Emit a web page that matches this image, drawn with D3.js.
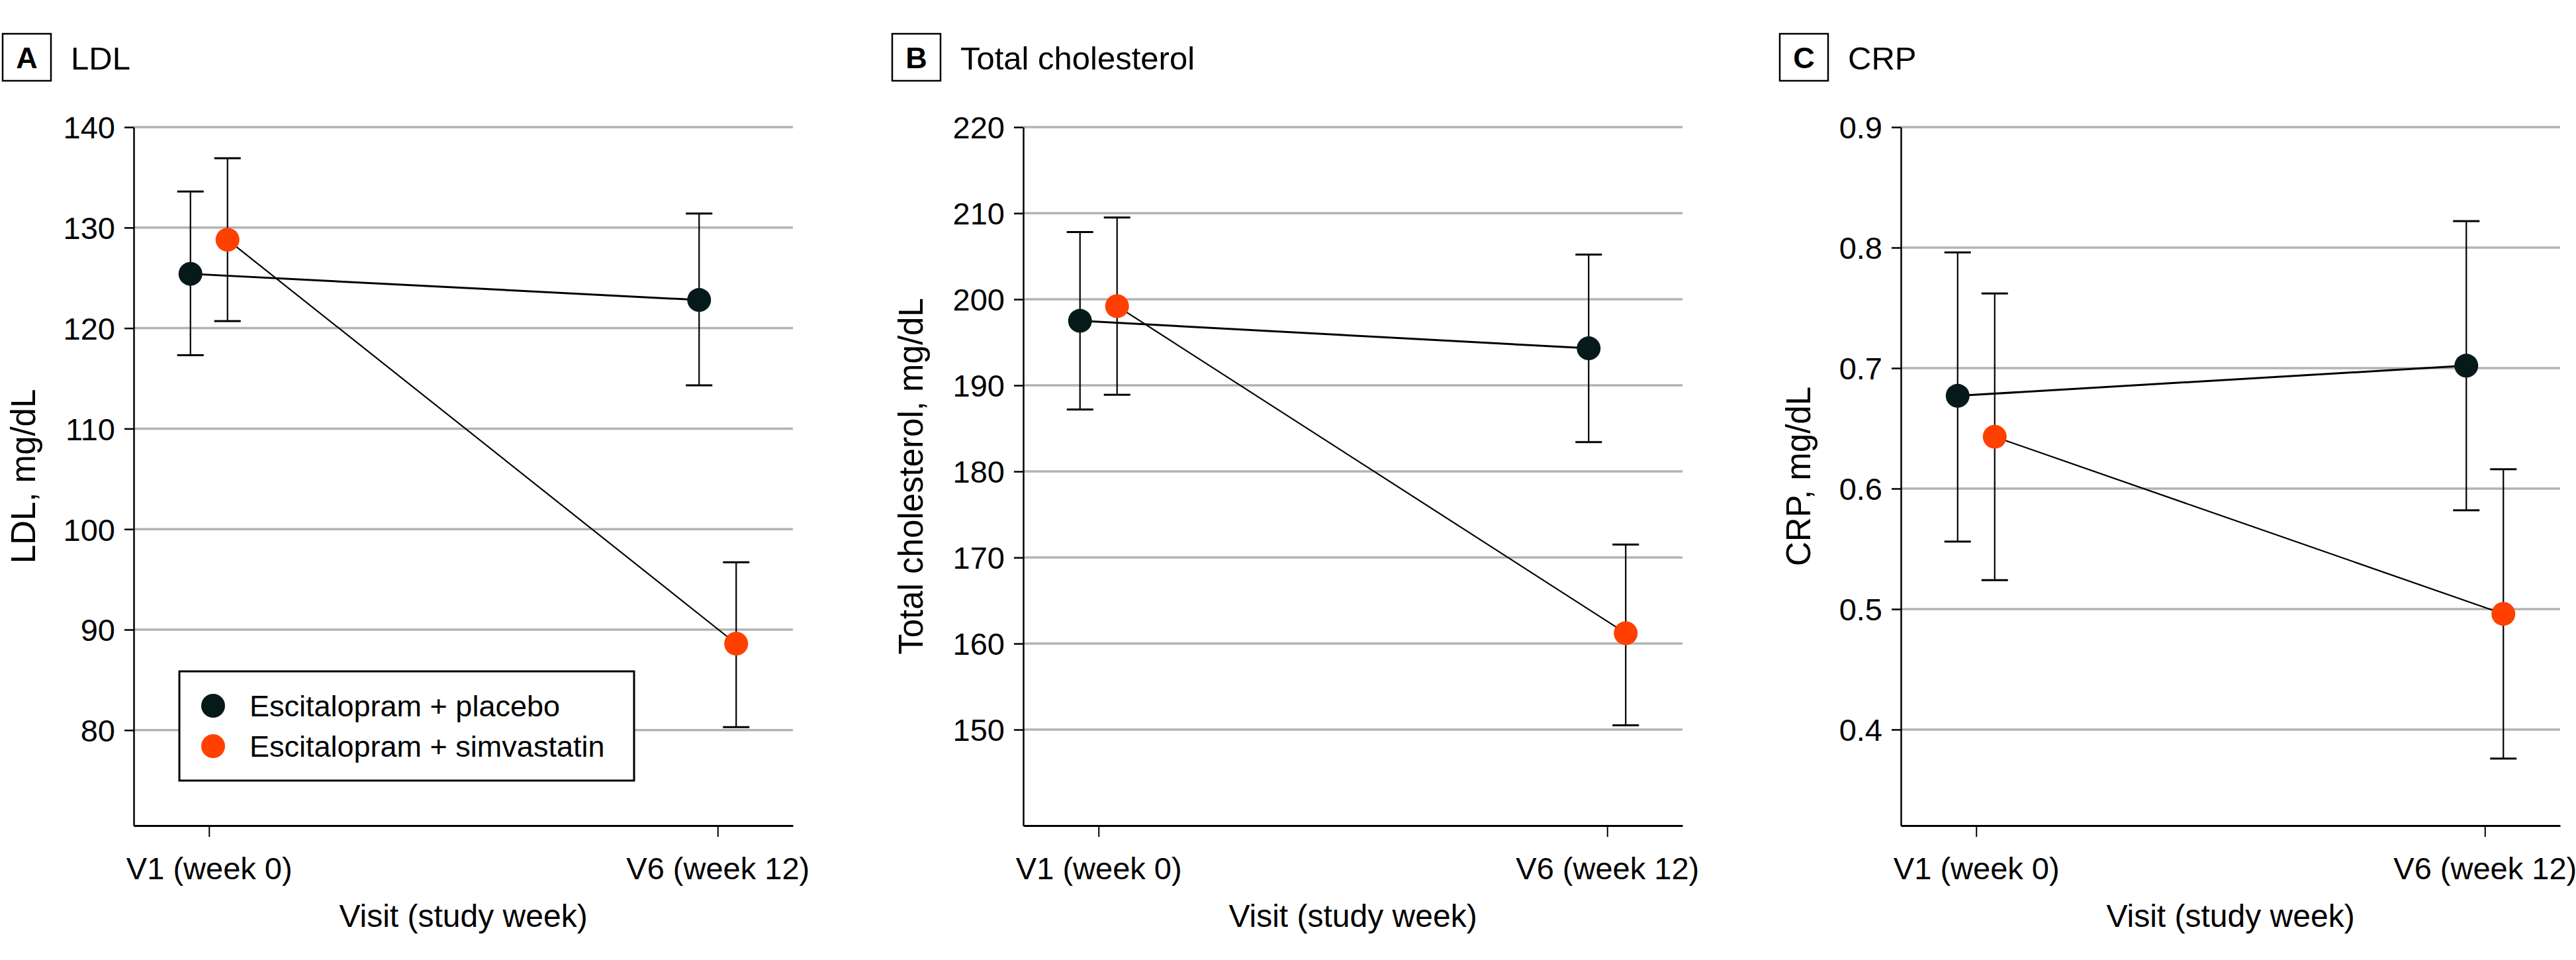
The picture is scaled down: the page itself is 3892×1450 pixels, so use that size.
<!DOCTYPE html>
<html>
<head>
<meta charset="utf-8">
<title>LDL, total cholesterol and CRP</title>
<script src="https://d3js.org/d3.v7.min.js"></script>
<style>
  body { margin: 0; background: #fff; }
  text { font-family: "Liberation Sans", Arial, sans-serif; fill: #000; }
</style>
</head>
<body>
<div id="chart"></div>
<script>
// visits and groups
const visits = ["V1 (week 0)", "V6 (week 12)"];
const groups = ["Escitalopram + placebo", "Escitalopram + simvastatin"];
const groupColors = ["#071a1a", "#ff4000"];

// A - LDL (mean, lower and upper limit)
const ldlPlaceboMean = [125.4, 122.8];
const ldlPlaceboLow = [117.3, 114.3];
const ldlPlaceboHigh = [133.6, 131.4];
const ldlSimvaMean = [128.8, 88.6];
const ldlSimvaLow = [120.7, 80.3];
const ldlSimvaHigh = [136.9, 96.7];
const ldlTicks = [80, 90, 100, 110, 120, 130, 140];

// B - Total cholesterol
const tcPlaceboMean = [197.5, 194.3];
const tcPlaceboLow = [187.2, 183.4];
const tcPlaceboHigh = [207.8, 205.2];
const tcSimvaMean = [199.2, 161.2];
const tcSimvaLow = [188.9, 150.5];
const tcSimvaHigh = [209.5, 171.5];
const tcTicks = [150, 160, 170, 180, 190, 200, 210, 220];

// C - CRP
const crpPlaceboMean = [0.677, 0.702];
const crpPlaceboLow = [0.556, 0.582];
const crpPlaceboHigh = [0.796, 0.822];
const crpSimvaMean = [0.643, 0.496];
const crpSimvaLow = [0.524, 0.376];
const crpSimvaHigh = [0.762, 0.616];
const crpTicks = [0.4, 0.5, 0.6, 0.7, 0.8, 0.9];

const W = 3892, H = 1450;
const plotTop = 192, plotBottom = 1247, plotW = 996;
const dodge = 28;

const svg = d3.select("#chart").append("svg")
    .attr("width", W)
    .attr("height", H);
svg.append("rect").attr("width", W).attr("height", H).attr("fill", "#fff");

const panels = [
  { letter: "A", title: "LDL", ylab: "LDL, mg/dL", ax: 202, box: 4, labX: 35,
    domain: [70.5, 140], ticks: ldlTicks, fmt: d3.format("d"), legend: true,
    series: [[ldlPlaceboMean, ldlPlaceboLow, ldlPlaceboHigh], [ldlSimvaMean, ldlSimvaLow, ldlSimvaHigh]] },
  { letter: "B", title: "Total cholesterol", ylab: "Total cholesterol, mg/dL", ax: 1546, box: 1348, labX: 1376,
    domain: [138.85, 220], ticks: tcTicks, fmt: d3.format("d"), legend: false,
    series: [[tcPlaceboMean, tcPlaceboLow, tcPlaceboHigh], [tcSimvaMean, tcSimvaLow, tcSimvaHigh]] },
  { letter: "C", title: "CRP", ylab: "CRP, mg/dL", ax: 2872, box: 2689, labX: 2717,
    domain: [0.3203, 0.9], ticks: crpTicks, fmt: d3.format(".1f"), legend: false,
    series: [[crpPlaceboMean, crpPlaceboLow, crpPlaceboHigh], [crpSimvaMean, crpSimvaLow, crpSimvaHigh]] }
];

panels.forEach(p => {
  const g = svg.append("g");

  const x = d3.scalePoint()
      .domain(visits)
      .range([p.ax, p.ax + plotW])
      .padding(0.148);
  const y = d3.scaleLinear()
      .domain(p.domain)
      .range([plotBottom, plotTop]);

  // panel letter box + title
  g.append("rect")
    .attr("x", p.box).attr("y", 51)
    .attr("width", 73).attr("height", 71)
    .attr("fill", "none").attr("stroke", "#000").attr("stroke-width", 2.5);
  g.append("text")
    .attr("x", p.box + 36.5).attr("y", 103)
    .attr("text-anchor", "middle")
    .style("font-size", "45px").style("font-weight", "bold")
    .text(p.letter);
  g.append("text")
    .attr("x", p.box + 103).attr("y", 105)
    .style("font-size", "49px")
    .text(p.title);

  // gridlines
  g.selectAll(".grid")
    .data(p.ticks)
    .enter()
    .append("line")
    .attr("x1", p.ax).attr("x2", p.ax + plotW)
    .attr("y1", d => y(d)).attr("y2", d => y(d))
    .attr("stroke", "#b3b3b3").attr("stroke-width", 3.5);

  // y axis
  const yAxis = d3.axisLeft(y)
      .tickValues(p.ticks)
      .tickFormat(p.fmt)
      .tickSize(14)
      .tickPadding(14)
      .tickSizeOuter(0);
  const ya = g.append("g")
    .attr("transform", `translate(${p.ax},0)`)
    .call(yAxis);
  ya.select(".domain").attr("stroke-width", 2.5);
  ya.selectAll(".tick line").attr("stroke-width", 2.5);
  ya.selectAll(".tick text")
    .style("font-size", "47px")
    .style("font-family", '"Liberation Sans", Arial, sans-serif')
    .attr("dy", "0.36em");

  // x axis
  const xAxis = d3.axisBottom(x)
      .tickSize(17)
      .tickPadding(22)
      .tickSizeOuter(0);
  const xa = g.append("g")
    .attr("transform", `translate(0,${plotBottom})`)
    .call(xAxis);
  xa.select(".domain").attr("stroke-width", 3);
  xa.selectAll(".tick line").attr("stroke-width", 2);
  xa.selectAll(".tick text")
    .style("font-size", "47px")
    .style("font-family", '"Liberation Sans", Arial, sans-serif')
    .attr("dy", "0.9em");

  g.append("text")
    .attr("x", p.ax + plotW / 2).attr("y", 1400)
    .attr("text-anchor", "middle")
    .style("font-size", "48px")
    .text("Visit (study week)");

  g.append("text")
    .attr("transform", `translate(${p.labX},${(plotTop + plotBottom) / 2}) rotate(-90)`)
    .attr("text-anchor", "middle")
    .attr("dy", "0.36em")
    .style("font-size", "51px")
    .text(p.ylab);

  // series: connecting line, error bars, points
  p.series.forEach((s, gi) => {
    const off = gi === 0 ? -dodge : dodge;
    const pts = visits.map((v, i) => ({ v: v, m: s[0][i], lo: s[1][i], hi: s[2][i] }));

    const line = d3.line()
        .x(d => x(d.v) + off)
        .y(d => y(d.m));
    g.append("path")
      .datum(pts)
      .attr("d", line)
      .attr("fill", "none")
      .attr("stroke", "#000")
      .attr("stroke-width", gi === 0 ? 3 : 2.2);

    const eb = g.selectAll(".eb" + gi)
      .data(pts)
      .enter()
      .append("g");
    eb.append("line")
      .attr("x1", d => x(d.v) + off).attr("x2", d => x(d.v) + off)
      .attr("y1", d => y(d.lo)).attr("y2", d => y(d.hi))
      .attr("stroke", "#000").attr("stroke-width", 2.2);
    eb.append("line")
      .attr("x1", d => x(d.v) + off - 20).attr("x2", d => x(d.v) + off + 20)
      .attr("y1", d => y(d.hi)).attr("y2", d => y(d.hi))
      .attr("stroke", "#000").attr("stroke-width", 3);
    eb.append("line")
      .attr("x1", d => x(d.v) + off - 20).attr("x2", d => x(d.v) + off + 20)
      .attr("y1", d => y(d.lo)).attr("y2", d => y(d.lo))
      .attr("stroke", "#000").attr("stroke-width", 3);

    g.selectAll(".pt" + gi)
      .data(pts)
      .enter()
      .append("circle")
      .attr("cx", d => x(d.v) + off)
      .attr("cy", d => y(d.m))
      .attr("r", 18)
      .attr("fill", groupColors[gi]);
  });

  // legend
  if (p.legend) {
    const lg = g.append("g");
    lg.append("rect")
      .attr("x", 271).attr("y", 1014)
      .attr("width", 687).attr("height", 165)
      .attr("fill", "#fff").attr("stroke", "#000").attr("stroke-width", 3);
    const items = lg.selectAll(".li")
      .data(groups)
      .enter()
      .append("g")
      .attr("transform", (d, i) => `translate(322,${1066 + i * 61})`);
    items.append("circle")
      .attr("r", 18)
      .attr("fill", (d, i) => groupColors[i]);
    items.append("text")
      .attr("x", 55).attr("dy", "0.36em")
      .style("font-size", "45px")
      .text(d => d);
  }
});
</script>
</body>
</html>
